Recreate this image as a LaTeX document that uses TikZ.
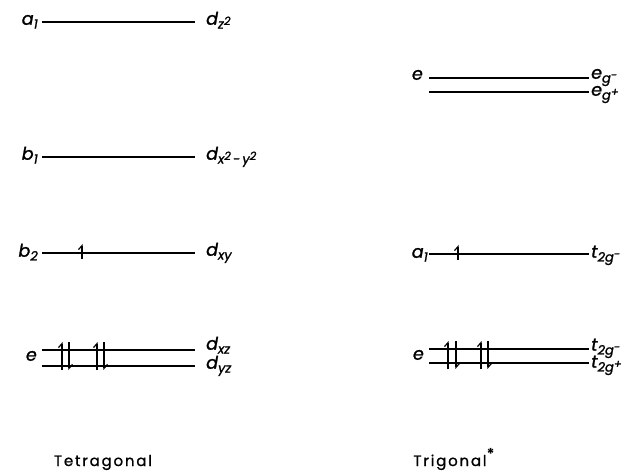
\documentclass[tikz,border=0pt]{standalone}
\usepackage{fontspec}
\setmainfont{Poppins}[ItalicFeatures={FakeBold=1.3},UprightFeatures={FakeBold=1.0}]
\usetikzlibrary{arrows.meta}
\newcommand{\lsub}[1]{\raisebox{-0.4ex}{\fontsize{13}{13}\selectfont\itshape #1}}
\newcommand{\lsup}[1]{\raisebox{0.5ex}{\fontsize{11.5}{12}\selectfont\itshape #1}}
\tikzset{
  level/.style={line width=1.2pt},
  lab/.style={inner sep=0pt, font=\fontsize{17.5}{19}\selectfont\itshape},
  title/.style={inner sep=0pt, anchor=base, font=\fontsize{15}{17}\selectfont\addfontfeatures{LetterSpace=12}},
  spin/.style={line width=1.2pt, -{Straight Barb[left,length=4pt,width=7pt]}},
}
\begin{document}
\begin{tikzpicture}[x=1pt,y=-1pt]
\useasboundingbox (0,0) rectangle (640,473);
% Tetragonal levels
\coordinate (ta1L) at (42,22);  \coordinate (ta1R) at (195,22);
\coordinate (tb1L) at (42,157); \coordinate (tb1R) at (195,157);
\coordinate (tb2L) at (42,253); \coordinate (tb2R) at (195,253);
\coordinate (teaL) at (42,350); \coordinate (teaR) at (195,350);
\coordinate (tebL) at (42,366); \coordinate (tebR) at (195,366);
\draw[level] (ta1L) -- (ta1R);
\draw[level] (tb1L) -- (tb1R);
\draw[level] (tb2L) -- (tb2R);
\draw[level] (teaL) -- (teaR);
\draw[level] (tebL) -- (tebR);
\node[lab, anchor=mid east] (la1) at (38,22) {a\lsub{1}};
\node[lab, anchor=mid east] (lb1) at (38,157) {b\lsub{1}};
\node[lab, anchor=mid east] (lb2) at (38,254) {b\lsub{2}};
\node[lab, anchor=mid east] (le) at (37,358) {e};
\node[lab, anchor=mid west] (rz2) at (206,22) {d\lsub{z\lsup{2}}};
\node[lab, anchor=mid west] (rx2) at (206,157) {d\lsub{x\lsup{2}\,-\,y\lsup{2}}};
\node[lab, anchor=mid west] (rxy) at (206,253) {d\lsub{xy}};
\node[lab, anchor=mid west] (rxz) at (206,347) {d\lsub{xz}};
\node[lab, anchor=mid west] (ryz) at (206,366) {d\lsub{yz}};
% Tetragonal electrons
\draw[spin] (82,259) -- (82,244);
\draw[spin] (62,370) -- (62,342);
\draw[spin] (69,342) -- (69,370);
\draw[spin] (97,370) -- (97,342);
\draw[spin] (104,342) -- (104,370);
% Trigonal levels
\coordinate (ueaL) at (429,78);  \coordinate (ueaR) at (589,78);
\coordinate (uebL) at (429,92);  \coordinate (uebR) at (589,92);
\coordinate (ua1L) at (429,254); \coordinate (ua1R) at (589,254);
\coordinate (uecL) at (429,349); \coordinate (uecR) at (589,349);
\coordinate (uedL) at (429,363); \coordinate (uedR) at (589,363);
\draw[level] (ueaL) -- (ueaR);
\draw[level] (uebL) -- (uebR);
\draw[level] (ua1L) -- (ua1R);
\draw[level] (uecL) -- (uecR);
\draw[level] (uedL) -- (uedR);
\node[lab, anchor=mid east] (ue1) at (423,77) {e};
\node[lab, anchor=mid east] (ua1) at (428,255) {a\lsub{1}};
\node[lab, anchor=mid east] (ue2) at (424,357) {e};
\node[lab, anchor=mid west] (rgm) at (591,76) {e\lsub{g\lsup{-}}};
\node[lab, anchor=mid west] (rgp) at (591,93) {e\lsub{g\lsup{+}}};
\node[lab, anchor=mid west] (rtm) at (591,255) {t\lsub{2g\lsup{-}}};
\node[lab, anchor=mid west] (rtm2) at (591,348) {t\lsub{2g\lsup{-}}};
\node[lab, anchor=mid west] (rtp2) at (591,365) {t\lsub{2g\lsup{+}}};
% Trigonal electrons
\draw[spin] (458,260) -- (458,245);
\draw[spin] (448,369) -- (448,341);
\draw[spin] (456,341) -- (456,369);
\draw[spin] (481,369) -- (481,341);
\draw[spin] (488,341) -- (488,369);
% Titles
\node[title] (tt) at (103,466) {Tetragonal};
\node[title] (tr) at (450,466) {Trigonal\rlap{\raisebox{0.8ex}{\textbf{*}}}};
\end{tikzpicture}
\end{document}
